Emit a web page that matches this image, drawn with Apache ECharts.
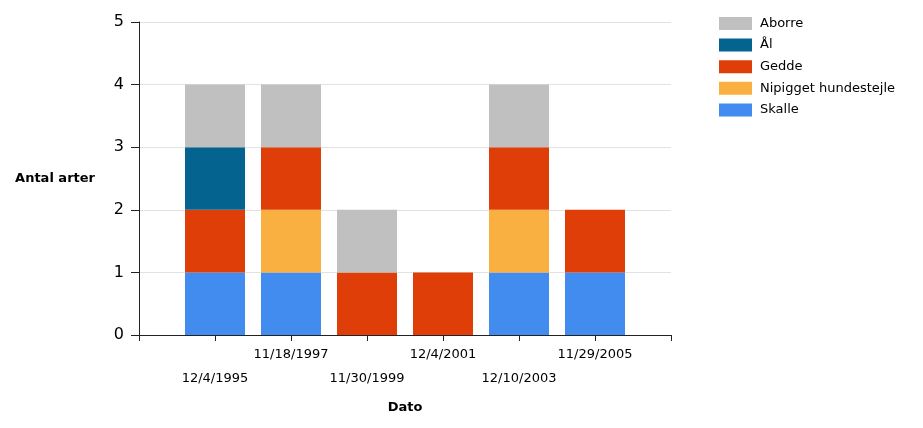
<!DOCTYPE html>
<html>
<head>
<meta charset="utf-8">
<script src="https://cdn.jsdelivr.net/npm/echarts@6/dist/echarts.min.js"></script>
<style>
  html, body { margin: 0; padding: 0; background: #fff; }
  #chart { width: 923px; height: 428px; }
</style>
</head>
<body>
<div id="chart"></div>
<script>
// Sampling dates (one stacked bar per date)
const dates = ['12/4/1995', '11/18/1997', '11/30/1999', '12/4/2001', '12/10/2003', '11/29/2005'];

// Species presence per date (1 = found), stacked bottom to top
const skalle   = [1, 1, 0, 0, 1, 1];
const nipigget = [0, 1, 0, 0, 1, 0];
const gedde    = [1, 1, 1, 1, 1, 1];
const aal      = [1, 0, 0, 0, 0, 0];
const aborre   = [1, 1, 1, 0, 1, 0];

const yTicks = [0, 1, 2, 3, 4, 5];

const speciesList = [
  { name: 'Skalle', values: skalle, color: '#428bef' },
  { name: 'Nipigget hundestejle', values: nipigget, color: '#fab040' },
  { name: 'Gedde', values: gedde, color: '#df3e08' },
  { name: 'Ål', values: aal, color: '#05638f' },
  { name: 'Aborre', values: aborre, color: '#c0c0c0' }
];

const font = 'DejaVu Sans, Verdana, sans-serif';

// The date axis has an empty slot at each end so bars sit between the outer ticks
const slots = [''].concat(dates, ['']);

const chart = echarts.init(document.getElementById('chart'), null, { renderer: 'canvas' });

chart.setOption({
  animation: false,
  backgroundColor: '#fff',
  grid: { left: 139, right: 252, top: 22, bottom: 93, containLabel: false },
  legend: {
    orient: 'vertical',
    left: 714,
    top: 12,
    itemWidth: 33,
    itemHeight: 13,
    itemGap: 8.6,
    icon: 'rect',
    data: ['Aborre', 'Ål', 'Gedde', 'Nipigget hundestejle', 'Skalle'],
    textStyle: { fontFamily: font, fontSize: 13, color: '#000', padding: [0, 0, 0, 3] }
  },
  xAxis: {
    type: 'category',
    data: slots,
    boundaryGap: false,
    name: 'Dato',
    nameLocation: 'middle',
    nameGap: 66,
    nameTextStyle: { fontFamily: font, fontSize: 13, fontWeight: 'bold', color: '#000' },
    splitLine: { show: false },
    axisLine: { lineStyle: { color: '#222', width: 1 } },
    axisTick: { show: true, length: 6, interval: 0, lineStyle: { color: '#222', width: 1 } },
    axisLabel: {
      margin: 13,
      interval: 0,
      hideOverlap: false,
      fontFamily: font,
      fontSize: 13,
      color: '#000',
      formatter: function (v, idx) {
        if (!v) return '';
        return (idx - 1) % 2 === 0 ? '{lo|' + v + '}' : '{hi|' + v + '}';
      },
      rich: {
        hi: { fontFamily: font, fontSize: 13, color: '#000' },
        lo: { fontFamily: font, fontSize: 13, color: '#000', padding: [24, 0, 0, 0] }
      }
    }
  },
  yAxis: {
    type: 'value',
    min: yTicks[0],
    max: yTicks[yTicks.length - 1],
    interval: 1,
    name: 'Antal arter',
    nameLocation: 'middle',
    nameRotate: 0,
    nameGap: 44,
    nameTextStyle: { fontFamily: font, fontSize: 13, fontWeight: 'bold', color: '#000', align: 'right' },
    axisLine: { show: true, lineStyle: { color: '#222', width: 1 } },
    axisTick: { show: true, length: 8, lineStyle: { color: '#222' } },
    axisLabel: { margin: 15, fontFamily: font, fontSize: 16, color: '#000' },
    splitLine: { show: true, lineStyle: { color: '#e2e2e2', width: 1 } }
  },
  series: speciesList.map(s => ({
    name: s.name,
    type: 'bar',
    stack: 'arter',
    barWidth: 60,
    itemStyle: { color: s.color },
    data: ['-'].concat(s.values, ['-'])
  }))
});
</script>
</body>
</html>
